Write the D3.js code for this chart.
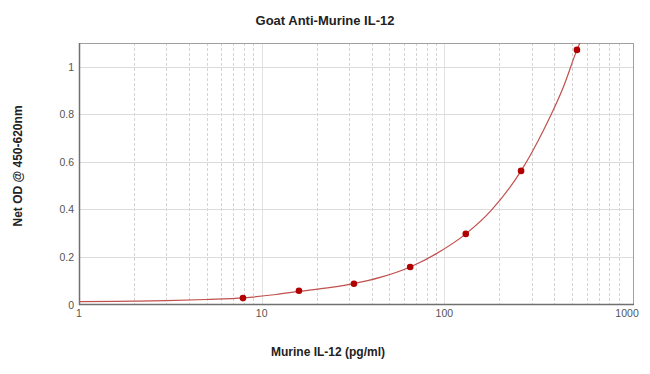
<!DOCTYPE html>
<html>
<head>
<meta charset="utf-8">
<script src="https://cdn.jsdelivr.net/npm/d3@7"></script>
<style>
  body { margin: 0; background: #fff; }
  svg { font-family: "Liberation Sans", Arial, sans-serif; }
</style>
</head>
<body>
<div id="chart"></div>
<script>
const width = 650, height = 374,
    margin = ({ top: 43, right: 17, bottom: 70, left: 79 });

// standards (pg/ml) and net OD
const conc = [7.9, 16, 32, 65, 131, 263, 532];
const od = [0.027, 0.058, 0.087, 0.158, 0.297, 0.562, 1.071];

// fitted curve as drawn
const fitX = [1, 2, 3, 5, 8, 12, 16, 24, 32, 45, 65, 90, 131, 180, 263, 350, 450, 532, 552];
const fitY = [0.012, 0.014, 0.016, 0.021, 0.028, 0.042, 0.055, 0.072, 0.088, 0.115, 0.158, 0.213, 0.297, 0.395, 0.562, 0.735, 0.918, 1.071, 1.1];

const xTicks = [1, 10, 100, 1000];
const yTicks = [0, 0.2, 0.4, 0.6, 0.8, 1];

const svg = d3.select("#chart").append("svg")
    .attr("width", width)
    .attr("height", height);

let x = d3.scaleLog()
    .domain([1, 1078])
    .range([margin.left, width - margin.right]);

let y = d3.scaleLinear()
    .domain([0, 1.1])
    .range([height - margin.bottom + 0.5, margin.top]);

const x0 = margin.left, x1 = width - margin.right,
    y0 = height - margin.bottom, y1 = margin.top;

// vertical grid, minor dashed, decades solid
let minor = [];
for (let p = 0; p < 3; p++)
    for (let k = 2; k <= 9; k++) minor.push(k * Math.pow(10, p));

svg.append("g").selectAll("line")
    .data(minor)
    .join("line")
    .attr("x1", d => Math.round(x(d)) + 0.5)
    .attr("x2", d => Math.round(x(d)) + 0.5)
    .attr("y1", y1).attr("y2", y0)
    .attr("stroke", "#d4d4d4")
    .attr("stroke-dasharray", "3,2");

svg.append("g").selectAll("line")
    .data([10, 100])
    .join("line")
    .attr("x1", d => Math.round(x(d)) + 0.5)
    .attr("x2", d => Math.round(x(d)) + 0.5)
    .attr("y1", y1).attr("y2", y0)
    .attr("stroke", "#e2e2e2");

// horizontal grid
svg.append("g").selectAll("line")
    .data(yTicks.slice(1))
    .join("line")
    .attr("x1", x0).attr("x2", x1)
    .attr("y1", d => Math.round(y(d)) + 0.5)
    .attr("y2", d => Math.round(y(d)) + 0.5)
    .attr("stroke", "#dcdcdc");

// frame
svg.append("rect")
    .attr("x", x0 + 0.5).attr("y", y1 + 0.5)
    .attr("width", x1 - x0).attr("height", y0 - y1)
    .attr("fill", "none")
    .attr("stroke", "#a0a0a0");

svg.append("path")
    .attr("d", `M${x0 + 0.5},${y1}V${y0 + 0.5}H${x1 + 1}`)
    .attr("fill", "none")
    .attr("stroke", "#707070")
    .attr("stroke-width", 1.5);

// tick labels
svg.append("g").selectAll("text")
    .data(xTicks)
    .join("text")
    .attr("x", d => x(d))
    .attr("y", y0 + 13)
    .attr("text-anchor", "middle")
    .attr("font-size", 10.5)
    .attr("fill", "#555")
    .text(d => d);

svg.append("g").selectAll("text")
    .data(yTicks)
    .join("text")
    .attr("x", x0 - 5)
    .attr("y", d => y(d) + 4)
    .attr("text-anchor", "end")
    .attr("font-size", 10.5)
    .attr("fill", "#555")
    .text(d => d);

// fitted curve
const fit = fitX.map((d, i) => ({ c: d, v: fitY[i] }));
let line = d3.line()
    .x(d => x(d.c))
    .y(d => y(d.v))
    .curve(d3.curveMonotoneX);

svg.append("path")
    .datum(fit)
    .attr("d", line)
    .attr("fill", "none")
    .attr("stroke", "#c0504d")
    .attr("stroke-width", 1.2);

// standards
svg.append("g").selectAll("circle")
    .data(conc.map((d, i) => ({ c: d, v: od[i] })))
    .join("circle")
    .attr("cx", d => x(d.c))
    .attr("cy", d => y(d.v))
    .attr("r", 3.3)
    .attr("fill", "#b00000");

// titles
svg.append("text")
    .attr("x", 325).attr("y", 25)
    .attr("text-anchor", "middle")
    .attr("font-size", 13)
    .attr("font-weight", "bold")
    .attr("fill", "#222")
    .text("Goat Anti-Murine IL-12");

svg.append("text")
    .attr("x", 328).attr("y", 356)
    .attr("text-anchor", "middle")
    .attr("font-size", 12)
    .attr("font-weight", "bold")
    .attr("fill", "#222")
    .text("Murine IL-12 (pg/ml)");

svg.append("text")
    .attr("transform", "translate(22,166) rotate(-90)")
    .attr("text-anchor", "middle")
    .attr("font-size", 12)
    .attr("font-weight", "bold")
    .attr("fill", "#222")
    .text("Net OD @ 450-620nm");
</script>
</body>
</html>
